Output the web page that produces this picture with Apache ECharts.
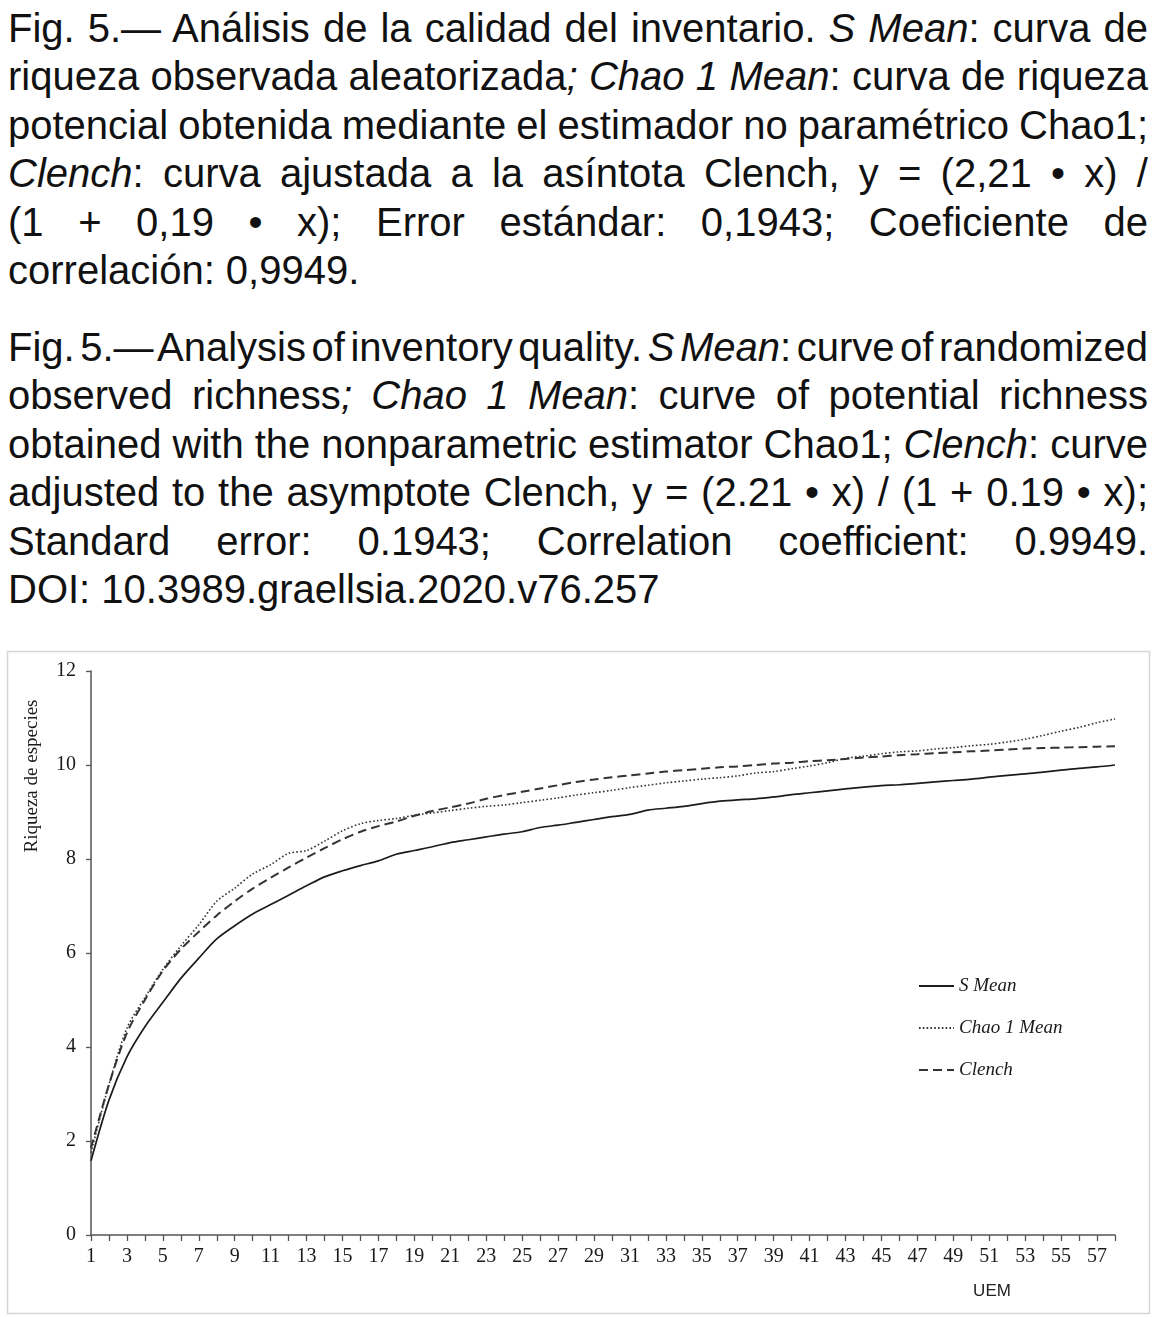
<!DOCTYPE html>
<html><head><meta charset="utf-8">
<script src="https://cdn.jsdelivr.net/npm/echarts@6/dist/echarts.min.js"></script>
<style>
html,body{margin:0;padding:0;background:#fff;width:1162px;height:1317px;overflow:hidden;}
#cap{position:absolute;left:8px;top:4px;width:1140px;font-family:"Liberation Sans",Arial,sans-serif;font-size:40px;line-height:48.4px;color:#111;}
.ln{text-align:justify;text-align-last:justify;}
.ln.last{text-align-last:left;}
#p2{margin-top:28.6px;}
#chart{position:absolute;left:0;top:640px;width:1162px;height:677px;}
</style>
</head><body>
<div id="cap">
<div id="p1">
<div class="ln"><span>Fig. 5.— Análisis de la calidad del inventario. <i>S Mean</i>: curva de</span></div>
<div class="ln"><span>riqueza observada aleatorizada<i>; Chao 1 Mean</i>: curva de riqueza</span></div>
<div class="ln"><span>potencial obtenida mediante el estimador no paramétrico Chao1;</span></div>
<div class="ln"><span><i>Clench</i>: curva ajustada a la asíntota Clench, y = (2,21 • x) /</span></div>
<div class="ln"><span>(1 + 0,19 • x); Error estándar: 0,1943; Coeficiente de</span></div>
<div class="ln last"><span>correlación: 0,9949.</span></div>
</div>
<div id="p2">
<div class="ln"><span>Fig. 5.— Analysis of inventory quality. <i>S Mean</i>: curve of randomized</span></div>
<div class="ln"><span>observed richness<i>; Chao 1 Mean</i>: curve of potential richness</span></div>
<div class="ln"><span>obtained with the nonparametric estimator Chao1; <i>Clench</i>: curve</span></div>
<div class="ln"><span>adjusted to the asymptote Clench, y = (2.21 • x) / (1 + 0.19 • x);</span></div>
<div class="ln"><span>Standard error: 0.1943; Correlation coefficient: 0.9949.</span></div>
<div class="ln last"><span>DOI: 10.3989.graellsia.2020.v76.257</span></div>
</div>
</div>
<div id="chart"></div>
<script>
// fit caption lines: squeeze word spaces first, then letters
document.querySelectorAll('.ln').forEach(function(d){
  d.style.whiteSpace='nowrap';
  var s=d.firstElementChild;
  var w=s.getBoundingClientRect().width;
  var txt=s.textContent;
  var n=txt.length;
  var sp=(txt.match(/ /g)||[]).length;
  var target=1136;
  if(w>target){
    var o=w-target;
    var maxWs=6;
    if(o<=sp*maxWs){ d.style.wordSpacing=(-o/Math.max(sp,1))+'px'; }
    else { d.style.wordSpacing=(-maxWs)+'px'; d.style.letterSpacing=(-(o-sp*maxWs)/n)+'px'; }
  }
  d.style.whiteSpace='';
});

var uem = ['1','2','3','4','5','6','7','8','9','10','11','12','13','14','15','16','17','18','19','20',
  '21','22','23','24','25','26','27','28','29','30','31','32','33','34','35','36','37','38','39','40',
  '41','42','43','44','45','46','47','48','49','50','51','52','53','54','55','56','57','58'];
var sMean = [1.58,2.87,3.79,4.43,4.95,5.46,5.89,6.30,6.58,6.83,7.03,7.23,7.43,7.62,7.75,7.86,7.96,8.10,8.18,8.26,
  8.35,8.41,8.47,8.53,8.58,8.67,8.72,8.78,8.84,8.90,8.95,9.04,9.08,9.12,9.18,9.23,9.26,9.28,9.32,9.37,
  9.41,9.45,9.49,9.53,9.56,9.58,9.61,9.64,9.67,9.70,9.74,9.78,9.81,9.85,9.89,9.93,9.96,10.00];
var chao1Mean = [1.75,3.20,4.40,5.05,5.65,6.15,6.60,7.10,7.38,7.68,7.88,8.12,8.18,8.38,8.60,8.75,8.82,8.86,8.93,8.98,
  9.03,9.08,9.12,9.15,9.20,9.25,9.30,9.36,9.41,9.46,9.52,9.57,9.62,9.66,9.70,9.73,9.77,9.83,9.86,9.92,
  9.98,10.05,10.14,10.19,10.24,10.28,10.30,10.34,10.37,10.41,10.44,10.49,10.55,10.63,10.72,10.80,10.90,10.98];
var clench = [1.85,3.20,4.30,5.00,5.62,6.08,6.45,6.80,7.10,7.37,7.60,7.82,8.03,8.23,8.42,8.58,8.70,8.80,8.92,9.02,
  9.10,9.18,9.28,9.36,9.43,9.50,9.57,9.64,9.69,9.74,9.78,9.82,9.86,9.89,9.92,9.95,9.97,10.00,10.03,10.05,
  10.08,10.10,10.13,10.16,10.18,10.21,10.23,10.25,10.27,10.29,10.31,10.33,10.35,10.36,10.37,10.38,10.39,10.40];
var seriesNames = ['S Mean','Chao 1 Mean','Clench'];
var yTitle = 'Riqueza de especies';
var xTitle = 'UEM';

var serif = '"Liberation Serif","Times New Roman",serif';
var chart = echarts.init(document.getElementById('chart'), null, {renderer:'canvas'});
chart.setOption({
  animation:false,
  backgroundColor:'transparent',
  grid:{left:91,right:47,top:31,bottom:82,containLabel:false},
  xAxis:{type:'category',data:uem,boundaryGap:false,
    axisLine:{lineStyle:{color:'#555',width:1.5}},
    axisTick:{show:true,interval:0,length:6,lineStyle:{color:'#555',width:1.3}},
    axisLabel:{interval:1,margin:12,color:'#1a1a1a',fontFamily:serif,fontSize:20},
    splitLine:{show:false}},
  yAxis:{type:'value',min:0,max:12,interval:2,
    axisLine:{show:true,lineStyle:{color:'#555',width:1.5}},
    axisTick:{show:true,length:5,lineStyle:{color:'#555',width:1.3}},
    axisLabel:{margin:15,color:'#1a1a1a',fontFamily:serif,fontSize:20},
    splitLine:{show:false}},
  legend:{orient:'vertical',left:918,top:336,padding:0,itemWidth:35,itemHeight:14,itemGap:22,
    data:seriesNames,
    itemStyle:{opacity:0,borderWidth:0},
    textStyle:{fontFamily:serif,fontStyle:'italic',fontSize:19,lineHeight:20,color:'#1a1a1a'}},
  graphic:[
    {type:'rect',left:5,top:9,shape:{width:1142,height:662},style:{fill:'none',stroke:'#d6d6d6',lineWidth:1.5},silent:true,z:-1},
    {type:'text',x:32,y:136,rotation:Math.PI/2,style:{text:yTitle,font:'19px '+serif,fill:'#1a1a1a',textAlign:'center',textVerticalAlign:'middle'}},
    {type:'text',x:992,y:651,style:{text:xTitle,font:'17px "Liberation Sans",Arial,sans-serif',fill:'#222',textAlign:'center',textVerticalAlign:'middle'}}
  ],
  series:[
    {name:seriesNames[0],type:'line',data:sMean,symbol:'none',smooth:0.3,
      lineStyle:{color:'#1c1c1c',width:1.7,type:'solid'},itemStyle:{color:'#1c1c1c'}},
    {name:seriesNames[1],type:'line',data:chao1Mean,symbol:'none',smooth:0.3,
      lineStyle:{color:'#333',width:1.6,type:[1.6,2.2]},itemStyle:{color:'#333'}},
    {name:seriesNames[2],type:'line',data:clench,symbol:'none',smooth:0.3,
      lineStyle:{color:'#333',width:2,type:[9,5]},itemStyle:{color:'#333'}}
  ]
});
</script>
</body></html>
